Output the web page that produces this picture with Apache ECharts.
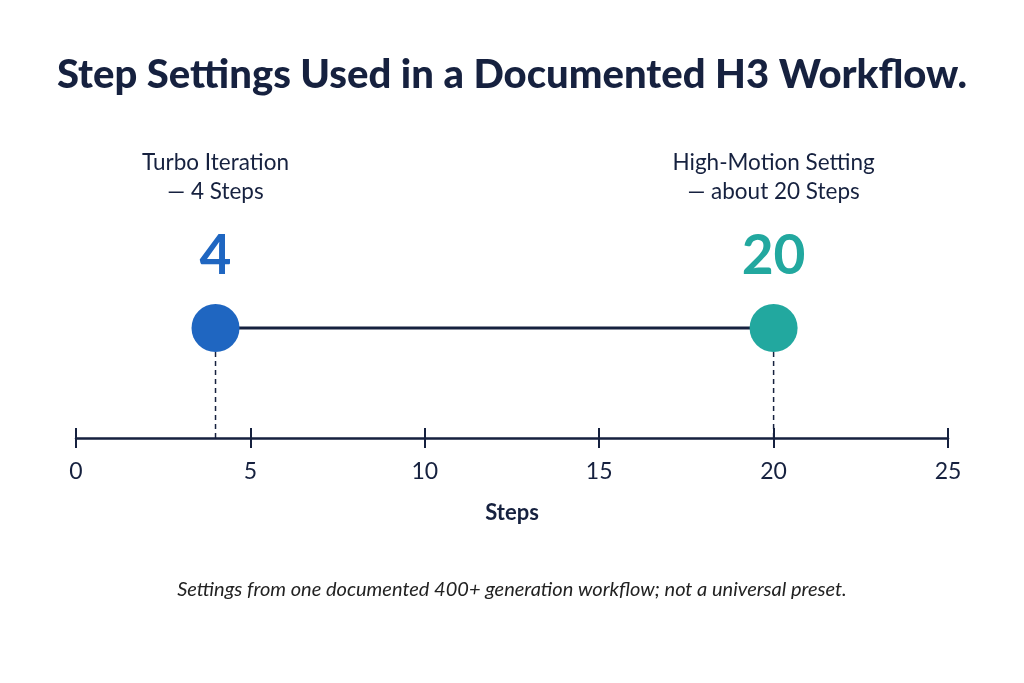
<!DOCTYPE html>
<html>
<head>
<meta charset="utf-8">
<script src="https://cdn.jsdelivr.net/npm/echarts@6/dist/echarts.min.js"></script>
<style>html,body{margin:0;padding:0;background:#fff}#c{width:1024px;height:683px}</style>
</head>
<body>
<div id="c"></div>
<script>
const names = ["Turbo Iteration", "High-Motion Setting"];
const subtitles = ["— 4 Steps", "— about 20 Steps"];
const steps = [4, 20];
const colors = ["#1f66c1", "#22a89f"];
const axisTicks = [0, 5, 10, 15, 20, 25];
const titleText = "Step Settings Used in a Documented H3 Workflow.";
const noteText = "Settings from one documented 400+ generation workflow; not a universal preset.";
const axisName = "Steps";

const NAVY = "#16213f";
const LEVEL = 0.5;
const font = "Lato, 'Open Sans', sans-serif";

const chart = echarts.init(document.getElementById('c'));
const series = [];
// connector
series.push({
  type: 'line', silent: true, symbol: 'none', z: 1,
  data: [[steps[0], LEVEL], [steps[1], LEVEL]],
  lineStyle: {color: NAVY, width: 3}
});
// dashed drop lines
steps.forEach(s => {
  series.push({
    type: 'line', silent: true, symbol: 'none', z: 1,
    data: [[s, 0], [s, LEVEL]],
    lineStyle: {color: NAVY, width: 1.5, type: [5, 4]}
  });
});
// points with numbers
series.push({
  type: 'scatter', z: 3, symbolSize: 48,
  itemStyle: {opacity: 1},
  data: steps.map((s, i) => ({
    value: [s, LEVEL],
    itemStyle: {color: colors[i], opacity: 1},
    label: {color: colors[i]}
  })),
  label: {
    show: true, position: 'top', distance: 20,
    formatter: p => String(p.value[0]),
    fontFamily: font, fontSize: 55, fontWeight: 'bold', lineHeight: 55
  }
});
// name labels
series.push({
  type: 'scatter', z: 3, symbolSize: 0,
  itemStyle: {opacity: 1},
  data: steps.map((s, i) => ({value: [s, LEVEL], name: names[i] + '\n' + subtitles[i]})),
  label: {
    show: true, position: 'top', distance: 122,
    formatter: p => p.name,
    fontFamily: font, fontSize: 22.5, lineHeight: 29, color: NAVY, align: 'center'
  }
});

chart.setOption({
  backgroundColor: '#ffffff',
  animation: false,
  title: [
    {text: titleText, left: 'center', top: 50,
     textStyle: {fontFamily: font, fontSize: 40, fontWeight: 900, color: NAVY}},
    {text: noteText, left: 'center', top: 575,
     textStyle: {fontFamily: font, fontSize: 20, fontStyle: 'italic', fontWeight: 'normal', color: '#222'}}
  ],
  grid: {left: 76, right: 76, top: 218, bottom: 245},
  xAxis: [{
    type: 'value', min: axisTicks[0], max: axisTicks[axisTicks.length - 1], interval: 5,
    position: 'bottom', offset: 0,
    axisLine: {show: true, onZero: false, lineStyle: {color: NAVY, width: 2.5}},
    axisTick: {show: true, length: 10, lineStyle: {color: NAVY, width: 2}},
    axisLabel: {margin: 22, fontFamily: font, fontSize: 23, color: NAVY},
    splitLine: {show: false},
    name: axisName, nameLocation: 'middle', nameGap: 64,
    nameTextStyle: {fontFamily: font, fontSize: 22, fontWeight: 'bold', color: NAVY}
  }, {
    type: 'value', min: axisTicks[0], max: axisTicks[axisTicks.length - 1], interval: 5,
    position: 'bottom', offset: 0,
    axisLine: {show: false, onZero: false},
    axisTick: {show: true, inside: true, length: 10, lineStyle: {color: NAVY, width: 2}},
    axisLabel: {show: false},
    splitLine: {show: false}
  }],
  yAxis: {type: 'value', min: 0, max: 1, show: false},
  series: series
});
</script>
</body>
</html>
